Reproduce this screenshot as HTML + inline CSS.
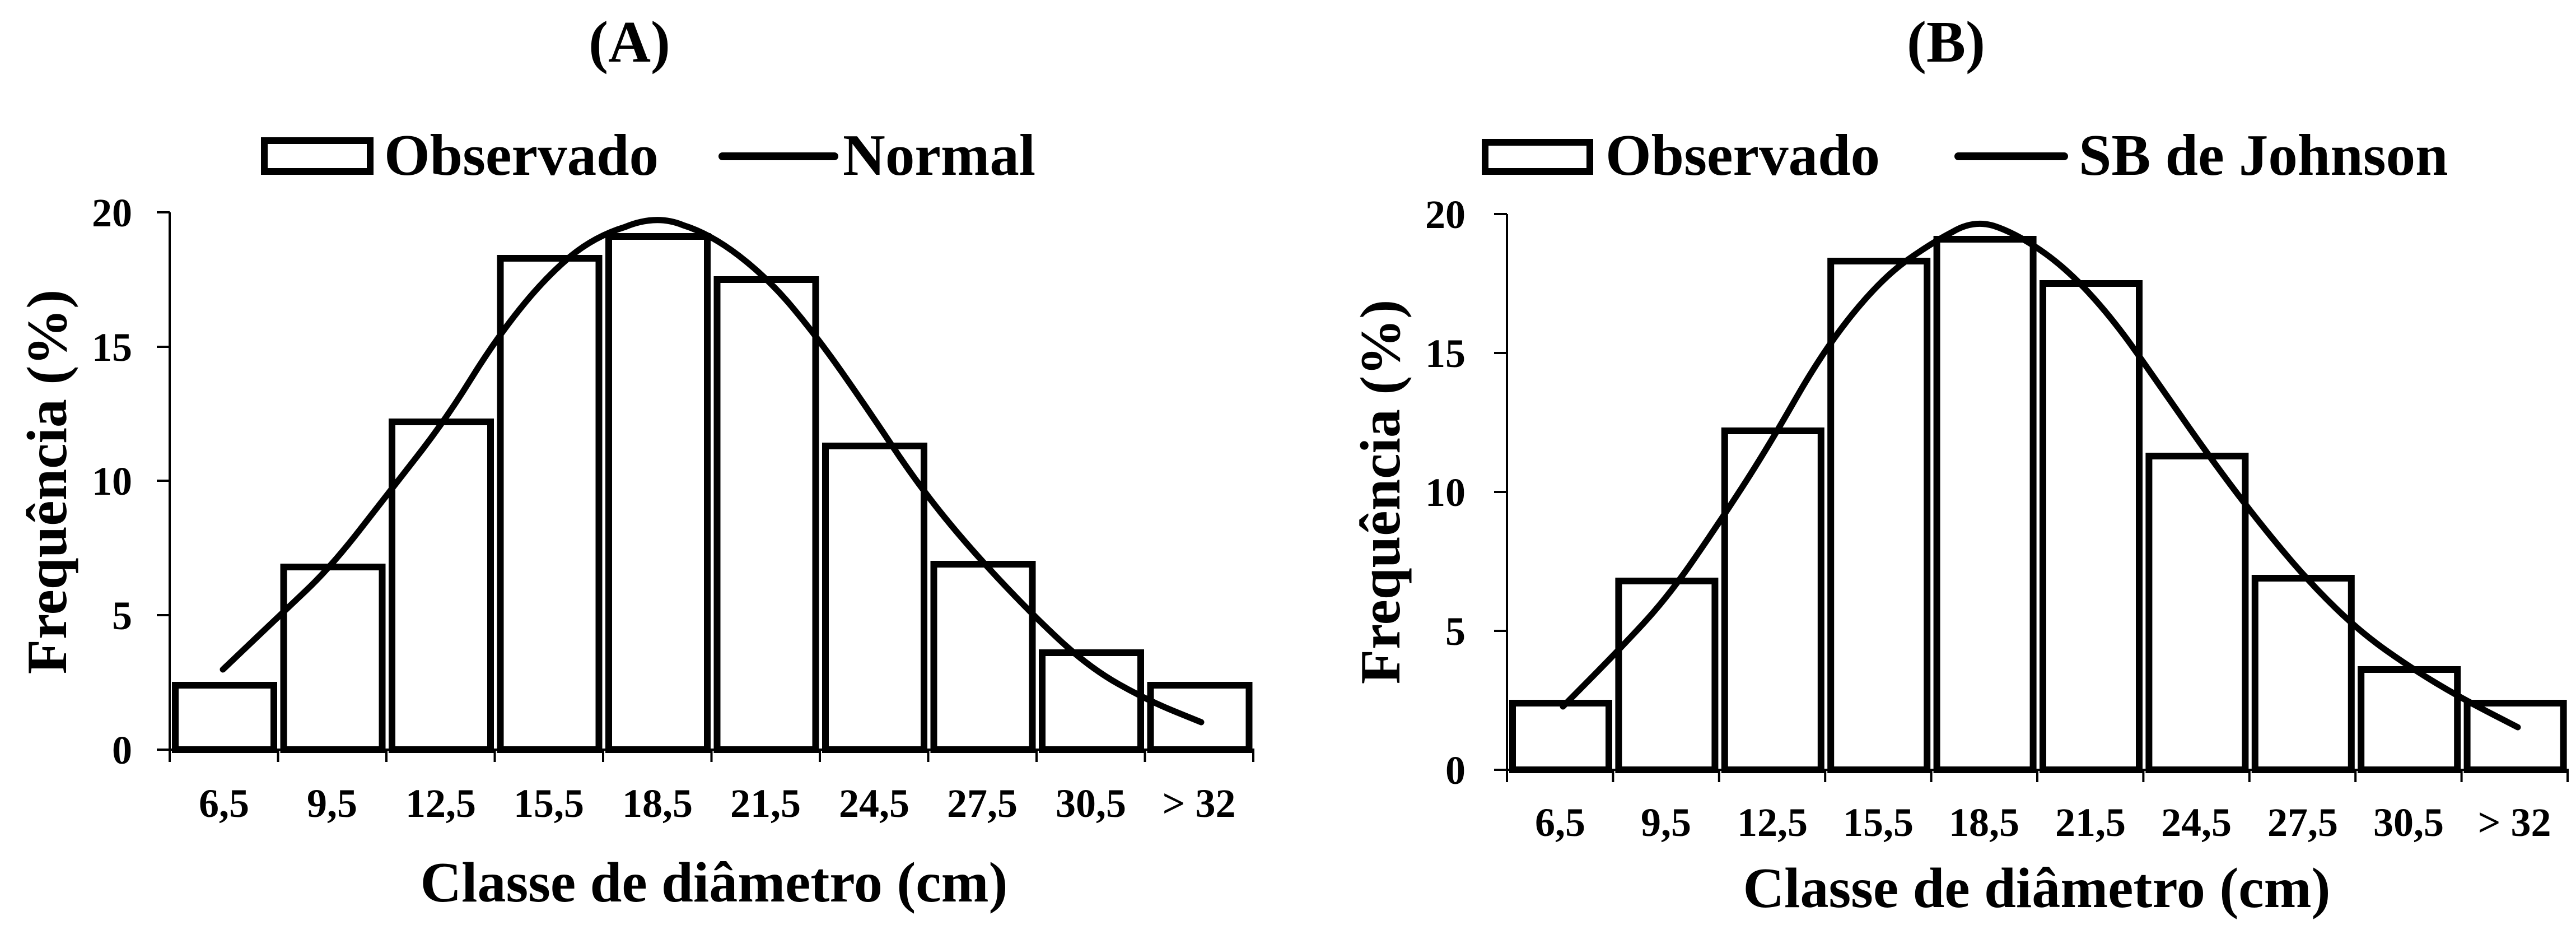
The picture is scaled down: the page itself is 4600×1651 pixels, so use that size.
<!DOCTYPE html>
<html><head><meta charset="utf-8"><style>
html,body{margin:0;padding:0;background:#fff;}
svg{display:block;}
text{font-family:"Liberation Serif",serif;font-weight:bold;fill:#000;}
.t{font-size:72px;}
.lg{font-size:105px;}
.ax{font-size:102px;}
</style></head><body>
<svg width="4600" height="1651" viewBox="0 0 4600 1651" xmlns="http://www.w3.org/2000/svg">
<!-- Panel A -->
<text x="1124" y="110" class="lg" text-anchor="middle">(A)</text>
<rect x="472" y="251" width="189" height="55" fill="#fff" stroke="#000" stroke-width="12"/>
<text x="686" y="312" class="lg">Observado</text>
<line x1="1290" y1="279" x2="1490" y2="279" stroke="#000" stroke-width="14" stroke-linecap="round"/>
<text x="1505" y="312" class="lg">Normal</text>
<g fill="#fff" stroke="#000" stroke-width="12">
<rect x="313" y="1223" width="176" height="115"/>
<rect x="506.5" y="1012" width="176" height="326"/>
<rect x="700" y="753" width="176" height="585"/>
<rect x="893.5" y="461" width="176" height="877"/>
<rect x="1087" y="422" width="176" height="916"/>
<rect x="1280.5" y="499" width="176" height="839"/>
<rect x="1474" y="796" width="176" height="542"/>
<rect x="1667.5" y="1007" width="176" height="331"/>
<rect x="1861" y="1165" width="176" height="173"/>
<rect x="2054.5" y="1223" width="176" height="115"/>
</g>
<g stroke="#000" stroke-width="4">
<line x1="303" y1="379" x2="303" y2="1340"/>
<line x1="301" y1="1338" x2="2240" y2="1338"/>
<line x1="280" y1="379" x2="303" y2="379"/>
<line x1="280" y1="619" x2="303" y2="619"/>
<line x1="280" y1="858" x2="303" y2="858"/>
<line x1="280" y1="1098" x2="303" y2="1098"/>
<line x1="280" y1="1338" x2="303" y2="1338"/>
<line x1="303" y1="1338" x2="303" y2="1360"/>
<line x1="496.5" y1="1338" x2="496.5" y2="1360"/>
<line x1="690" y1="1338" x2="690" y2="1360"/>
<line x1="883.5" y1="1338" x2="883.5" y2="1360"/>
<line x1="1077" y1="1338" x2="1077" y2="1360"/>
<line x1="1270.5" y1="1338" x2="1270.5" y2="1360"/>
<line x1="1464" y1="1338" x2="1464" y2="1360"/>
<line x1="1657.5" y1="1338" x2="1657.5" y2="1360"/>
<line x1="1851" y1="1338" x2="1851" y2="1360"/>
<line x1="2044.5" y1="1338" x2="2044.5" y2="1360"/>
<line x1="2238" y1="1338" x2="2238" y2="1360"/>
</g>
<g class="t" text-anchor="end">
<text x="236" y="404">20</text>
<text x="236" y="644">15</text>
<text x="236" y="883">10</text>
<text x="236" y="1123">5</text>
<text x="236" y="1363">0</text>
</g>
<g class="t" text-anchor="middle">
<text x="400" y="1458">6,5</text>
<text x="593" y="1458">9,5</text>
<text x="787" y="1458">12,5</text>
<text x="980" y="1458">15,5</text>
<text x="1174" y="1458">18,5</text>
<text x="1367" y="1458">21,5</text>
<text x="1561" y="1458">24,5</text>
<text x="1754" y="1458">27,5</text>
<text x="1948" y="1458">30,5</text>
<text x="2141" y="1458">&gt; 32</text>
</g>
<path fill="none" stroke="#000" stroke-width="11" stroke-linejoin="round" stroke-linecap="round"
d="M398,1195 L449.5,1146 Q501,1097 545.5,1055 Q590,1013 641.5,947 Q693,881 744.5,815 Q796,749 840,678 Q884,607 928.5,551.5 Q973,496 1017,459 Q1061,422 1116.5,405 Q1172,382 1220,402 Q1268,417 1319.5,456.5 Q1371,496 1415,548.5 Q1459,601 1503.5,664.5 Q1548,728 1592,794 Q1636,860 1680.5,915.5 Q1725,971 1784,1034 Q1843,1097 1894.5,1144.5 Q1946,1192 1997.5,1221 Q2049,1250 2097,1269.5 L2145,1289"/>
<text x="1275" y="1609" class="ax" text-anchor="middle">Classe de diâmetro (cm)</text>
<text transform="translate(118,860) rotate(-90)" class="ax" text-anchor="middle">Frequência (%)</text>

<!-- Panel B -->
<text x="3475" y="110" class="lg" text-anchor="middle">(B)</text>
<rect x="2652" y="254" width="187" height="52" fill="#fff" stroke="#000" stroke-width="12"/>
<text x="2867" y="312" class="lg">Observado</text>
<line x1="3497" y1="279" x2="3686" y2="279" stroke="#000" stroke-width="14" stroke-linecap="round"/>
<text x="3712" y="312" class="lg">SB de Johnson</text>
<g fill="#fff" stroke="#000" stroke-width="12">
<rect x="2701" y="1255" width="172" height="119"/>
<rect x="2890.4" y="1037" width="172" height="337"/>
<rect x="3079.8" y="769" width="172" height="605"/>
<rect x="3269.2" y="466" width="172" height="908"/>
<rect x="3458.6" y="427" width="172" height="947"/>
<rect x="3648" y="506" width="172" height="868"/>
<rect x="3837.4" y="814" width="172" height="560"/>
<rect x="4026.8" y="1032" width="172" height="342"/>
<rect x="4216.2" y="1195" width="172" height="179"/>
<rect x="4405.6" y="1255" width="172" height="119"/>
</g>
<g stroke="#000" stroke-width="4">
<line x1="2691" y1="382" x2="2691" y2="1376"/>
<line x1="2689" y1="1374" x2="4587" y2="1374"/>
<line x1="2668" y1="382" x2="2691" y2="382"/>
<line x1="2668" y1="630" x2="2691" y2="630"/>
<line x1="2668" y1="878" x2="2691" y2="878"/>
<line x1="2668" y1="1126" x2="2691" y2="1126"/>
<line x1="2668" y1="1374" x2="2691" y2="1374"/>
<line x1="2691" y1="1374" x2="2691" y2="1396"/>
<line x1="2880.4" y1="1374" x2="2880.4" y2="1396"/>
<line x1="3069.8" y1="1374" x2="3069.8" y2="1396"/>
<line x1="3259.2" y1="1374" x2="3259.2" y2="1396"/>
<line x1="3448.6" y1="1374" x2="3448.6" y2="1396"/>
<line x1="3638" y1="1374" x2="3638" y2="1396"/>
<line x1="3827.4" y1="1374" x2="3827.4" y2="1396"/>
<line x1="4016.8" y1="1374" x2="4016.8" y2="1396"/>
<line x1="4206.2" y1="1374" x2="4206.2" y2="1396"/>
<line x1="4395.6" y1="1374" x2="4395.6" y2="1396"/>
<line x1="4585" y1="1374" x2="4585" y2="1396"/>
</g>
<g class="t" text-anchor="end">
<text x="2617" y="407">20</text>
<text x="2617" y="655">15</text>
<text x="2617" y="903">10</text>
<text x="2617" y="1151">5</text>
<text x="2617" y="1399">0</text>
</g>
<g class="t" text-anchor="middle">
<text x="2786" y="1492">6,5</text>
<text x="2975" y="1492">9,5</text>
<text x="3165" y="1492">12,5</text>
<text x="3354" y="1492">15,5</text>
<text x="3543" y="1492">18,5</text>
<text x="3733" y="1492">21,5</text>
<text x="3922" y="1492">24,5</text>
<text x="4112" y="1492">27,5</text>
<text x="4301" y="1492">30,5</text>
<text x="4490" y="1492">&gt; 32</text>
</g>
<path fill="none" stroke="#000" stroke-width="11" stroke-linejoin="round" stroke-linecap="round"
d="M2791,1261 L2840.5,1211 Q2890,1161 2934,1113.5 Q2978,1066 3022,1002.5 Q3066,939 3110.5,870.5 Q3155,802 3206.5,712 Q3258,622 3309.5,559 Q3361,496 3405.5,464.5 Q3450,433 3486.5,414 Q3523,392 3560,403 Q3597,415 3641.5,445 Q3686,475 3730,522.5 Q3774,570 3818,633 Q3862,696 3906.5,759.5 Q3951,823 3995,881 Q4039,939 4083.5,991.5 Q4128,1044 4172,1086.5 Q4216,1129 4260.5,1160.5 Q4305,1192 4349,1218.5 Q4393,1245 4444.5,1271.5 L4496,1298"/>
<text x="3637" y="1619" class="ax" text-anchor="middle">Classe de diâmetro (cm)</text>
<text transform="translate(2499,878) rotate(-90)" class="ax" text-anchor="middle">Frequência (%)</text>
</svg>
</body></html>
